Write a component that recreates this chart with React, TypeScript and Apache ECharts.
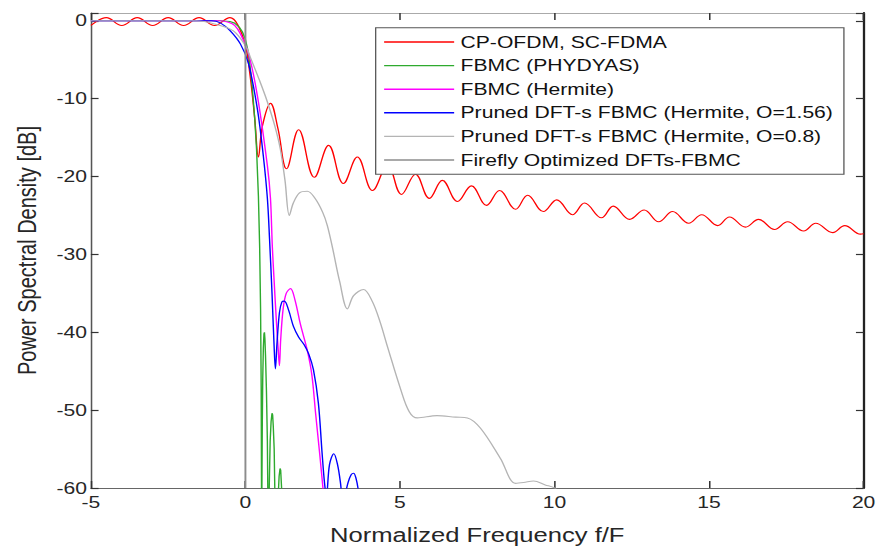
import React, { useEffect, useRef } from 'react';
import * as echarts from 'echarts';

// ---- data (normalized frequency f/F, PSD in dB) ----
const seriesNames = [
  'CP-OFDM, SC-FDMA',
  'FBMC (PHYDYAS)',
  'FBMC (Hermite)',
  'Pruned DFT-s FBMC (Hermite, O=1.56)',
  'Pruned DFT-s FBMC (Hermite, O=0.8)',
  'Firefly Optimized DFTs-FBMC',
];

const cpOfdm: number[][] = [
  [-5, -0.6], [-4.5, 0.4], [-4, -0.6], [-3.5, 0.4], [-3, -0.6], [-2.5, 0.4], [-2, -0.6],
  [-1.5, 0.4], [-1, -0.6], [-0.5, 0.4], [-0.25, -0.5], [0, -3.2], [0.15, -7], [0.3, -12.5],
  [0.42, -17.5], [0.55, -13.5], [0.81, -10.6], [1.05, -13.8], [1.33, -19.0], [1.72, -14.0],
  [2.23, -20.1], [2.69, -16.0], [3.17, -20.9], [3.62, -17.5], [4.11, -21.8], [4.6, -18.5],
  [5.05, -22.3], [5.5, -19.7], [5.95, -22.8], [6.37, -20.5], [6.86, -23.2], [7.31, -21.2],
  [7.8, -23.7], [8.22, -21.8], [8.74, -24.2], [9.13, -22.4], [9.64, -24.5], [10.07, -23.0],
  [10.58, -24.9], [10.97, -23.4], [11.52, -25.3], [11.9, -23.8], [12.43, -25.5], [12.9, -24.3],
  [13.37, -25.8], [13.82, -24.5], [14.34, -26.0], [14.76, -24.9], [15.28, -26.3], [15.66, -25.2],
  [16.18, -26.5], [16.6, -25.5], [17.12, -26.8], [17.54, -25.8], [18.06, -27.0], [18.45, -26.0],
  [19.0, -27.2], [19.39, -26.3], [19.9, -27.4], [20, -27.35],
];

const fbmcPhydyas: number[][] = [
  [-5, 0], [-0.8, 0], [-0.5, -0.1], [-0.35, -0.3], [-0.2, -0.8], [-0.1, -1.4], [0, -2.4],
  [0.08, -3.8], [0.15, -5.8], [0.22, -8.5], [0.3, -12.5], [0.36, -16.5], [0.42, -22.5],
  [0.46, -29], [0.49, -37], [0.51, -47], [0.525, -65],
  [0.545, -52], [0.56, -46], [0.58, -42], [0.6, -40.2], [0.615, -40], [0.63, -40.8],
  [0.65, -43], [0.68, -47.5], [0.71, -54], [0.735, -65],
  [0.77, -60], [0.8, -54], [0.83, -51.5], [0.86, -50.4], [0.88, -50.6], [0.9, -52],
  [0.93, -55], [0.97, -65],
  [1.06, -61], [1.09, -58.5], [1.12, -57.5], [1.14, -57.7], [1.17, -60], [1.2, -65],
];

const fbmcHermite: number[][] = [
  [-5, 0], [-0.8, 0], [-0.55, -0.2], [-0.35, -0.6], [-0.16, -1.7], [0.1, -4.2], [0.39, -9.7],
  [0.71, -18.6], [0.81, -22.8], [0.87, -29], [0.93, -33.5], [1.0, -38.5], [1.06, -42.2],
  [1.1, -44.3], [1.14, -41], [1.22, -37], [1.32, -35], [1.46, -34.4], [1.6, -35.8],
  [1.78, -39], [2.0, -42.3], [2.15, -45.5], [2.27, -50.4], [2.4, -55.5], [2.52, -60.5], [2.6, -64],
];

const prunedO156: number[][] = [
  [-5, 0], [-1.1, 0], [-0.8, -0.3], [-0.49, -1.3], [-0.16, -3], [0.1, -5.5], [0.39, -11.4],
  [0.58, -17.4], [0.71, -22.8], [0.78, -28], [0.86, -35], [0.93, -42], [0.97, -44.7],
  [1.02, -41.5], [1.1, -37.5], [1.18, -36.1], [1.26, -36], [1.4, -37.2], [1.55, -39.2],
  [1.72, -40.6], [1.9, -41.6], [2.05, -42.8], [2.2, -44.8], [2.36, -49.1], [2.48, -55.5],
  [2.56, -59.4], [2.62, -61], [2.72, -57], [2.86, -55.6], [2.98, -57], [3.08, -59.5],
  [3.15, -62], [3.22, -61], [3.32, -59.3], [3.42, -58.3], [3.5, -58.1], [3.58, -58.8],
  [3.66, -60.5], [3.72, -63],
];

const prunedO08: number[][] = [
  [-5, 0], [-1.6, 0], [-1.0, -0.4], [-0.39, -1.3], [0.03, -3.4], [0.16, -4.7], [0.45, -7.6],
  [0.7, -10.3], [0.95, -13.5], [1.13, -16.5], [1.28, -20.5], [1.42, -25], [1.55, -23.4],
  [1.75, -22.1], [2.0, -21.9], [2.25, -22.8], [2.5, -24.6], [2.65, -26.3], [2.82, -29.2],
  [3.05, -33.5], [3.3, -37], [3.5, -35.3], [3.82, -34.5], [4.1, -36], [4.35, -38.6],
  [4.6, -41.9], [5.02, -47.3], [5.3, -50.2], [5.56, -51], [6.2, -50.7], [6.8, -50.9],
  [7.18, -51], [7.6, -52.3], [8.25, -56.2], [8.74, -59.4], [9.0, -59.3], [9.32, -59.1],
  [9.7, -59.6], [10.0, -60], [10.3, -61],
];

const firefly: number[][] = [
  [0, 1], [0, -60],
];

const xTicks = { min: -5, max: 20, interval: 5 };
const yTicks = { min: -60, max: 1, interval: 10 };

const colors = ['#ff0000', '#2eaa2e', '#ff00ff', '#0000ff', '#b4b4b4', '#8c8c8c'];

// the reference figure is horizontally stretched; reproduce that stretch
const SCALE_X = 1.28;
const INNER_W = 880 / SCALE_X;
const FONT = "'Liberation Sans', Arial, Helvetica, sans-serif";

export default function App() {
  const ref = useRef<HTMLDivElement>(null);

  useEffect(() => {
    if (!ref.current) return;
    const chart = echarts.init(ref.current, null, { renderer: 'svg' });
    const datasets = [cpOfdm, fbmcPhydyas, fbmcHermite, prunedO156, prunedO08, firefly];
    const smooths = [0.4, false, 0.35, 0.35, 0.35, false];

    const axisLabelStyle = { fontSize: 16.5, color: '#262626', fontFamily: FONT };

    chart.setOption({
      animation: false,
      backgroundColor: '#ffffff',
      textStyle: { fontFamily: FONT },
      grid: { left: 71, right: 13.3, top: 13, bottom: 57, containLabel: false },
      legend: {
        show: true,
        orient: 'vertical',
        left: 293.5,
        top: 27.7,
        data: seriesNames,
        itemWidth: 54.7,
        itemHeight: 10,
        itemGap: 6.6,
        padding: [5.8, 8.4, 5.8, 5.9],
        backgroundColor: '#ffffff',
        borderColor: '#555555',
        borderWidth: 1,
        itemStyle: { opacity: 0 },
        lineStyle: { width: 1.4 },
        textStyle: { fontSize: 16.5, lineHeight: 16.5, color: '#111111', fontFamily: FONT },
      },
      xAxis: [
        {
          type: 'value',
          min: xTicks.min,
          max: xTicks.max,
          interval: xTicks.interval,
          name: 'Normalized Frequency f/F',
          nameLocation: 'middle',
          nameGap: 37,
          nameTextStyle: { fontSize: 20, color: '#262626', fontFamily: FONT },
          axisLine: { show: true, onZero: false, lineStyle: { color: '#666666', width: 1.2 } },
          axisTick: { show: true, inside: true, length: 7, lineStyle: { color: '#333333', width: 1.2 } },
          axisLabel: { ...axisLabelStyle, margin: 6 },
          splitLine: { show: false },
        },
        {
          type: 'value',
          position: 'top',
          min: xTicks.min,
          max: xTicks.max,
          interval: xTicks.interval,
          axisLine: { show: true, onZero: false, lineStyle: { color: '#aaaaaa', width: 1.2 } },
          axisTick: { show: true, inside: true, length: 7, lineStyle: { color: '#333333', width: 1.2 } },
          axisLabel: { show: false },
          splitLine: { show: false },
        },
      ],
      yAxis: [
        {
          type: 'value',
          min: yTicks.min,
          max: yTicks.max,
          interval: yTicks.interval,
          name: 'Power Spectral Density [dB]',
          nameLocation: 'middle',
          nameGap: 40,
          nameTextStyle: { fontSize: 20, color: '#262626', fontFamily: FONT },
          axisLine: { show: true, onZero: false, lineStyle: { color: '#555555', width: 1.2 } },
          axisTick: { show: true, inside: true, length: 6, lineStyle: { color: '#333333', width: 1.2 } },
          axisLabel: {
            ...axisLabelStyle,
            margin: 3,
            formatter: (v: number) => (v % 10 === 0 ? String(v) : ''),
          },
          splitLine: { show: false },
        },
        {
          type: 'value',
          position: 'right',
          min: yTicks.min,
          max: yTicks.max,
          interval: yTicks.interval,
          axisLine: { show: true, onZero: false, lineStyle: { color: '#222222', width: 1.8 } },
          axisTick: { show: true, inside: true, length: 6, lineStyle: { color: '#333333', width: 1.2 } },
          axisLabel: { show: false },
          splitLine: { show: false },
        },
      ],
      series: seriesNames.map((name, i) => ({
        name,
        type: 'line',
        data: datasets[i],
        xAxisIndex: 0,
        yAxisIndex: 0,
        symbol: 'none',
        showSymbol: false,
        smooth: smooths[i],
        clip: true,
        lineStyle: { color: colors[i], width: i === 5 ? 1.5 : 1.1 },
        itemStyle: { color: colors[i] },
        emphasis: { disabled: true },
        z: 2 + i,
      })),
    });

    return () => chart.dispose();
  }, []);

  return (
    <div
      style={{
        position: 'fixed',
        left: 0,
        top: 0,
        width: 880,
        height: 550,
        overflow: 'hidden',
        background: '#ffffff',
      }}
    >
      <div
        ref={ref}
        style={{
          width: INNER_W,
          height: 550,
          transform: `scaleX(${SCALE_X})`,
          transformOrigin: '0 0',
        }}
      />
    </div>
  );
}
